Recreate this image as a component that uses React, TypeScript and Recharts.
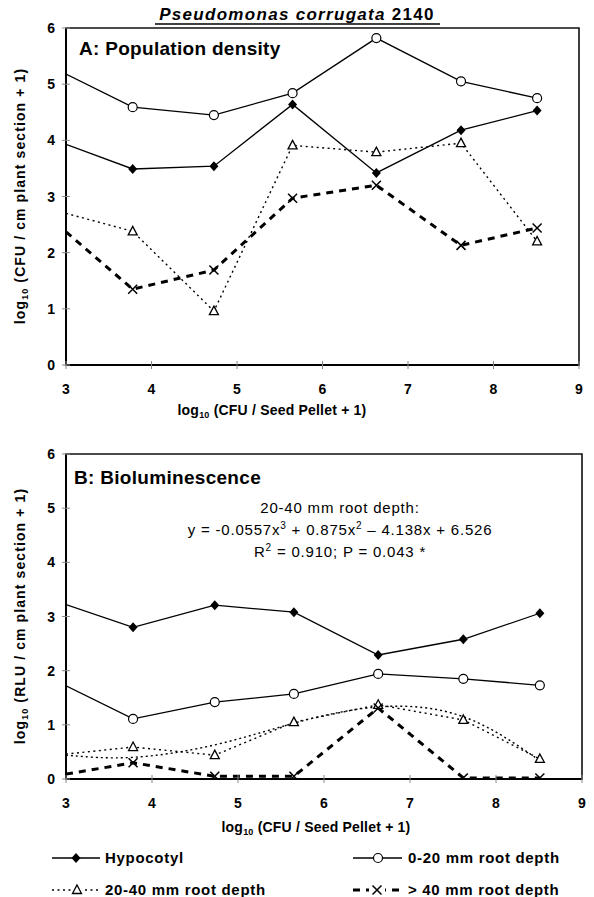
import React from "react";
import { LineChart, Line, XAxis, YAxis, ReferenceArea } from "recharts";

// log10 CFU per seed pellet (first dose sits left of the axis, so it is read at x = 3)
const doses = [3, 3.78, 4.73, 5.65, 6.63, 7.62, 8.51];

// A: population density, log10 (CFU / cm plant section + 1)
const densHypocotyl = [3.93, 3.49, 3.54, 4.64, 3.42, 4.18, 4.53];
const dens0to20 = [5.18, 4.59, 4.45, 4.84, 5.82, 5.05, 4.75];
const dens20to40 = [2.7, 2.38, 0.96, 3.91, 3.79, 3.95, 2.2];
const densOver40 = [2.37, 1.35, 1.69, 2.97, 3.2, 2.13, 2.44];

// B: bioluminescence, log10 (RLU / cm plant section + 1)
const lumHypocotyl = [3.22, 2.8, 3.21, 3.08, 2.29, 2.58, 3.06];
const lum0to20 = [1.72, 1.11, 1.42, 1.57, 1.94, 1.85, 1.73];
const lum20to40 = [0.46, 0.59, 0.44, 1.05, 1.37, 1.09, 0.37];
const lumOver40 = [0.09, 0.3, 0.05, 0.05, 1.31, 0.02, 0.02];
// cubic trend for 20-40 mm
const lumFit = [0.44, 0.4, 0.63, 1.03, 1.33, 1.15, 0.34];

const xTicks = [3, 4, 5, 6, 7, 8, 9];
const yTicks = [0, 1, 2, 3, 4, 5, 6];

const FONT = '"Liberation Sans", Arial, Helvetica, sans-serif';

const panelA = doses.map((x, i) => ({
  x,
  hyp: densHypocotyl[i],
  r020: dens0to20[i],
  r2040: dens20to40[i],
  r40: densOver40[i],
}));

const panelB = doses.map((x, i) => ({
  x,
  hyp: lumHypocotyl[i],
  r020: lum0to20[i],
  r2040: lum20to40[i],
  r40: lumOver40[i],
  fit: lumFit[i],
}));

const hidden = (p: any) => p.payload.x < 3.05;

const Diamond = (p: any) =>
  hidden(p) ? (
    <g key={p.key} />
  ) : (
    <polygon
      key={p.key}
      points={`${p.cx},${p.cy - 5} ${p.cx + 4.5},${p.cy} ${p.cx},${p.cy + 5} ${p.cx - 4.5},${p.cy}`}
      fill="#000"
    />
  );

const Circle = (p: any) =>
  hidden(p) ? (
    <g key={p.key} />
  ) : (
    <circle key={p.key} cx={p.cx} cy={p.cy} r={4.5} fill="#fff" stroke="#000" strokeWidth={1.2} />
  );

const triPts = (cx: number, cy: number) =>
  `${cx},${cy - 5} ${cx + 4.5},${cy + 3.5} ${cx - 4.5},${cy + 3.5}`;

const Triangle = (p: any) =>
  hidden(p) ? (
    <g key={p.key} />
  ) : (
    <polygon key={p.key} points={triPts(p.cx, p.cy)} fill="#fff" stroke="#000" strokeWidth={1.3} />
  );

const crossPath = (cx: number, cy: number) =>
  `M${cx - 4.5},${cy - 4.5}L${cx + 4.5},${cy + 4.5}M${cx + 4.5},${cy - 4.5}L${cx - 4.5},${cy + 4.5}`;

const Cross = (p: any) =>
  hidden(p) ? (
    <g key={p.key} />
  ) : (
    <path key={p.key} d={crossPath(p.cx, p.cy)} stroke="#000" strokeWidth={1.5} fill="none" />
  );

const XTick = (p: any) => (
  <g>
    <line x1={p.x} x2={p.x} y1={p.y - 4} y2={p.y + 4} stroke="#888" />
    <text x={p.x} y={p.y + 29} textAnchor="middle" fontSize={14} fontWeight="bold" fontFamily={FONT} fill="#000">
      {p.payload.value}
    </text>
  </g>
);

const YTick = (p: any) => (
  <g>
    <line x1={p.x - 4} x2={p.x + 4} y1={p.y} y2={p.y} stroke="#888" />
    <text x={p.x - 11} y={p.y + 5} textAnchor="end" fontSize={14} fontWeight="bold" fontFamily={FONT} fill="#000">
      {p.payload.value}
    </text>
  </g>
);

function Panel({ data, margin, withFit }: { data: any[]; margin: any; withFit?: boolean }) {
  return (
    <LineChart width={594} height={420} data={data} margin={margin}>
      <XAxis
        type="number"
        dataKey="x"
        domain={[3, 9]}
        ticks={xTicks}
        allowDataOverflow
        height={30}
        tickSize={0}
        tickMargin={0}
        tickLine={false}
        tick={XTick}
        axisLine={{ stroke: "#000", strokeWidth: 2 }}
      />
      <YAxis
        type="number"
        domain={[0, 6]}
        ticks={yTicks}
        allowDataOverflow
        width={40}
        tickSize={0}
        tickMargin={0}
        tickLine={false}
        tick={YTick}
        axisLine={{ stroke: "#000", strokeWidth: 2 }}
      />
      <ReferenceArea x1={3} x2={9} y1={0} y2={6} fill="none" stroke="#111" strokeWidth={1.6} />
      {withFit && (
        <Line
          dataKey="fit"
          type="natural"
          stroke="#000"
          strokeWidth={1.4}
          strokeDasharray="2 3"
          dot={false}
          isAnimationActive={false}
        />
      )}
      <Line
        dataKey="r2040"
        type="linear"
        stroke="#000"
        strokeWidth={1.4}
        strokeDasharray="2 3.5"
        dot={Triangle}
        isAnimationActive={false}
      />
      <Line
        dataKey="r40"
        type="linear"
        stroke="#000"
        strokeWidth={3}
        strokeDasharray="7 6"
        dot={Cross}
        isAnimationActive={false}
      />
      <Line dataKey="r020" type="linear" stroke="#000" strokeWidth={1.3} dot={Circle} isAnimationActive={false} />
      <Line dataKey="hyp" type="linear" stroke="#000" strokeWidth={1.3} dot={Diamond} isAnimationActive={false} />
    </LineChart>
  );
}

const bold = { fontFamily: FONT, fontWeight: "bold" as const, fill: "#000" };

function YTitle({ cy, unit }: { cy: number; unit: string }) {
  return (
    <text
      transform={`translate(25 ${cy}) rotate(-90)`}
      textAnchor="middle"
      fontSize={14}
      letterSpacing={1.1}
      {...bold}
    >
      log
      <tspan fontSize={9} dy={3}>
        10
      </tspan>
      <tspan dy={-3}>{` (${unit} / cm plant section + 1)`}</tspan>
    </text>
  );
}

function XTitle({ cx, y }: { cx: number; y: number }) {
  return (
    <text x={cx} y={y} textAnchor="middle" fontSize={14} letterSpacing={0.2} {...bold}>
      log
      <tspan fontSize={9} dy={3}>
        10
      </tspan>
      <tspan dy={-3}> (CFU / Seed Pellet + 1)</tspan>
    </text>
  );
}

const legendText = { fontSize: 15, letterSpacing: 0.7, ...bold };

export default function App() {
  return (
    <div style={{ position: "absolute", left: 0, top: 0, width: 594, height: 897, background: "#fff" }}>
      <div style={{ position: "absolute", left: 0, top: 0 }}>
        <Panel data={panelA} margin={{ top: 28, right: 15, left: 26, bottom: 25 }} />
      </div>
      <div style={{ position: "absolute", left: 0, top: 420 }}>
        <Panel data={panelB} margin={{ top: 34, right: 12, left: 26, bottom: 31 }} withFit />
      </div>
      <svg
        width={594}
        height={897}
        style={{ position: "absolute", left: 0, top: 0, pointerEvents: "none" }}
      >
        <text x={297} y={20} textAnchor="middle" fontSize={17} letterSpacing={1.3} {...bold}>
          <tspan fontStyle="italic">Pseudomonas corrugata</tspan> 2140
        </text>
        <line x1={155} x2={440} y1={24} y2={24} stroke="#000" strokeWidth={1.3} />

        <text x={79} y={55} fontSize={19} letterSpacing={0.3} {...bold}>
          A: Population density
        </text>
        <text x={74} y={484} fontSize={19} letterSpacing={0.3} {...bold}>
          B: Bioluminescence
        </text>

        <YTitle cy={196} unit="CFU" />
        <YTitle cy={616} unit="RLU" />
        <XTitle cx={272} y={415} />
        <XTitle cx={316} y={832} />

        <g fontFamily={FONT} fontSize={15} letterSpacing={0.8} fill="#000" textAnchor="middle">
          <text x={340} y={513}>20-40 mm root depth:</text>
          <text x={340} y={535}>
            y = -0.0557x
            <tspan fontSize={10} dy={-6}>
              3
            </tspan>
            <tspan dy={6}> + 0.875x</tspan>
            <tspan fontSize={10} dy={-6}>
              2
            </tspan>
            <tspan dy={6}> – 4.138x + 6.526</tspan>
          </text>
          <text x={340} y={557}>
            R
            <tspan fontSize={10} dy={-6}>
              2
            </tspan>
            <tspan dy={6}> = 0.910; P = 0.043 *</tspan>
          </text>
        </g>

        {/* legend */}
        <line x1={52} x2={100} y1={858} y2={858} stroke="#000" strokeWidth={1.3} />
        <polygon points="76,853 80.5,858 76,863 71.5,858" fill="#000" />
        <text x={105} y={863} {...legendText}>
          Hypocotyl
        </text>

        <line x1={353} x2={402} y1={858} y2={858} stroke="#000" strokeWidth={1.3} />
        <circle cx={378} cy={858} r={4.5} fill="#fff" stroke="#000" strokeWidth={1.2} />
        <text x={408} y={863} {...legendText}>
          0-20 mm root depth
        </text>

        <line x1={52} x2={100} y1={890} y2={890} stroke="#000" strokeWidth={1.4} strokeDasharray="2 3.5" />
        <rect x={71} y={884} width={12} height={10} fill="#fff" />
        <polygon points={triPts(77, 890)} fill="#fff" stroke="#000" strokeWidth={1.3} />
        <text x={105} y={895} {...legendText}>
          20-40 mm root depth
        </text>

        <line x1={353} x2={402} y1={890} y2={890} stroke="#000" strokeWidth={3} strokeDasharray="7 6" />
        <rect x={369} y={884} width={16} height={12} fill="#fff" />
        <path d={crossPath(377, 890)} stroke="#000" strokeWidth={1.5} fill="none" />
        <text x={408} y={895} {...legendText}>
          {"> 40 mm root depth"}
        </text>
      </svg>
    </div>
  );
}
